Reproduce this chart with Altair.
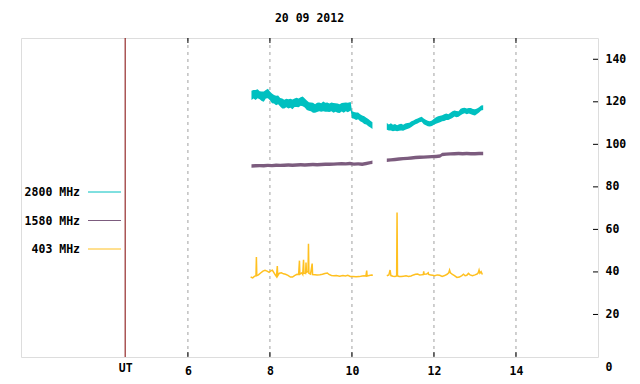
import altair as alt
import pandas as pd

TITLE = "20 09 2012"
SERIES = ["2800 MHz", "1580 MHz", "403 MHz"]
COLORS = ["#00c0c0", "#7c5c7e", "#ffc020"]
X_TICKS = [6, 8, 10, 12, 14]
UT_POS = 4.47
Y_TICKS = [0, 20, 40, 60, 80, 100, 120, 140]
X_DOMAIN = [1.93, 16]
Y_DOMAIN = [0, 150]

# 2800 MHz (band centre and noise half-width), two segments
t2800_a = [7.55, 7.60, 7.65, 7.70, 7.75, 7.80, 7.85, 7.90, 7.95, 8.00, 8.05, 8.10, 8.15, 8.20,
           8.25, 8.30, 8.35, 8.40, 8.45, 8.50, 8.55, 8.60, 8.65, 8.70, 8.75, 8.80, 8.85, 8.90,
           8.95, 9.00, 9.05, 9.10, 9.15, 9.20, 9.25, 9.30, 9.35, 9.40, 9.45, 9.50, 9.55, 9.60,
           9.65, 9.70, 9.75, 9.80, 9.85, 9.90, 9.97, 10.00, 10.05, 10.10, 10.15, 10.20, 10.25,
           10.30, 10.35, 10.40, 10.45, 10.50]
v2800_a = [123.0, 123.6, 123.2, 123.8, 123.1, 122.6, 122.4, 123.5, 123.9, 122.8, 121.6, 121.2,
           120.6, 120.9, 119.8, 119.2, 118.9, 119.4, 119.0, 119.3, 118.8, 119.6, 119.7, 119.5,
           120.1, 120.2, 119.4, 118.4, 117.8, 117.6, 117.2, 116.9, 117.4, 117.6, 117.3, 117.8,
           117.4, 117.5, 117.2, 117.6, 117.1, 117.3, 117.0, 116.8, 117.4, 117.2, 117.6, 117.3,
           117.9, 114.0, 113.6, 113.2, 113.4, 112.5, 112.0, 111.4, 110.9, 110.2, 109.5, 108.8]
s2800_a = [2.2, 2.0, 2.3, 2.1, 1.9, 2.2, 2.4, 2.0, 2.2, 2.1, 2.3, 2.0, 2.2, 2.1, 2.0, 2.3,
           2.1, 2.0, 2.2, 2.1, 2.3, 2.0, 2.2, 2.1, 2.0, 2.3, 2.1, 2.2, 2.0, 2.1, 2.3, 2.0,
           2.2, 2.1, 2.0, 2.3, 2.1, 2.2, 2.0, 2.1, 2.3, 2.0, 2.2, 2.1, 2.0, 2.3, 2.1, 2.2,
           2.0, 1.7, 1.6, 1.8, 1.6, 1.7, 1.6, 1.8, 1.6, 1.7, 1.6, 1.6]
t2800_b = [10.85, 10.90, 10.95, 11.00, 11.05, 11.10, 11.15, 11.20, 11.25, 11.30, 11.35, 11.40,
           11.45, 11.50, 11.55, 11.60, 11.65, 11.70, 11.75, 11.80, 11.85, 11.90, 11.95, 12.00,
           12.05, 12.10, 12.15, 12.20, 12.25, 12.30, 12.35, 12.40, 12.45, 12.50, 12.55, 12.60,
           12.65, 12.70, 12.75, 12.80, 12.85, 12.90, 12.95, 13.00, 13.05, 13.10, 13.15, 13.20]
v2800_b = [108.4, 107.9, 108.2, 107.7, 108.0, 107.6, 107.9, 108.1, 107.8, 108.3, 108.6, 108.9,
           109.5, 110.0, 110.6, 111.0, 111.5, 111.8, 110.8, 110.3, 109.8, 109.6, 109.9, 110.6,
           111.2, 111.6, 111.9, 112.3, 112.6, 113.0, 112.8, 113.4, 114.0, 114.5, 114.2, 114.3,
           115.2, 115.7, 115.9, 115.5, 115.8, 115.6, 115.2, 115.0, 115.6, 116.2, 117.1, 117.3]
s2800_b = [1.6, 1.4, 1.7, 1.5, 1.6, 1.4, 1.5, 1.6, 1.4, 1.5, 1.4, 1.3, 1.3, 1.2, 1.2, 1.2,
           1.1, 1.2, 1.4, 1.3, 1.3, 1.2, 1.3, 1.4, 1.5, 1.6, 1.5, 1.4, 1.6, 1.5, 1.4, 1.5,
           1.6, 1.4, 1.5, 1.3, 1.5, 1.4, 1.3, 1.4, 1.3, 1.5, 1.4, 1.5, 1.3, 1.2, 1.2, 1.1]

# 1580 MHz
t1580_a = [7.55, 7.65, 7.75, 7.85, 7.95, 8.05, 8.15, 8.25, 8.35, 8.45, 8.55, 8.65, 8.75, 8.85,
           8.95, 9.05, 9.15, 9.25, 9.35, 9.45, 9.55, 9.65, 9.75, 9.85, 9.95, 10.05, 10.15,
           10.25, 10.35, 10.45, 10.50]
v1580_a = [89.8, 89.9, 90.0, 89.9, 90.1, 90.0, 90.2, 90.1, 90.2, 90.3, 90.2, 90.3, 90.4, 90.3,
           90.4, 90.5, 90.4, 90.5, 90.6, 90.6, 90.7, 90.8, 90.9, 90.8, 91.0, 90.7, 90.8, 90.6,
           91.0, 91.4, 91.6]
t1580_b = [10.85, 10.95, 11.05, 11.15, 11.25, 11.35, 11.45, 11.55, 11.65, 11.75, 11.85, 11.95,
           12.05, 12.15, 12.20, 12.30, 12.40, 12.50, 12.60, 12.70, 12.80, 12.90, 13.00, 13.10,
           13.20]
v1580_b = [92.5, 92.7, 92.9, 93.1, 93.3, 93.4, 93.6, 93.8, 93.9, 94.0, 94.1, 94.2, 94.3, 94.5,
           95.2, 95.4, 95.5, 95.6, 95.7, 95.6, 95.7, 95.6, 95.6, 95.7, 95.7]
s1580 = 0.8

# 403 MHz
t403_a = [7.53, 7.58, 7.62, 7.66, 7.67, 7.68, 7.72, 7.78, 7.83, 7.88, 7.93, 7.98, 8.02, 8.06,
          8.10, 8.13, 8.16, 8.18, 8.19, 8.23, 8.28, 8.33, 8.38, 8.44, 8.50, 8.55, 8.60, 8.66,
          8.70, 8.72, 8.73, 8.78, 8.80, 8.82, 8.83, 8.87, 8.88, 8.89, 8.93, 8.94, 8.95, 8.99,
          9.03, 9.04, 9.10, 9.15, 9.22, 9.28, 9.34, 9.40, 9.44, 9.50, 9.56, 9.62, 9.70, 9.78,
          9.84, 9.90, 9.96, 10.02, 10.10, 10.18, 10.25, 10.30, 10.34, 10.36, 10.37, 10.42,
          10.48, 10.51]
v403_a = [37.6, 37.2, 37.9, 38.2, 47.0, 38.3, 38.6, 39.6, 40.4, 40.8, 40.4, 39.8, 40.5, 40.8,
          39.6, 38.6, 37.8, 42.8, 38.2, 39.4, 39.6, 39.1, 38.9, 38.4, 37.6, 37.6, 38.3, 38.9,
          38.8, 45.3, 39.0, 39.6, 38.9, 45.7, 39.4, 39.2, 44.4, 39.8, 40.2, 53.3, 39.4, 39.0,
          43.9, 38.8, 38.7, 38.6, 38.7, 38.9, 39.3, 39.5, 38.8, 38.3, 38.2, 38.3, 38.0, 38.3,
          38.1, 38.4, 37.9, 37.8, 37.7, 37.8, 38.1, 38.2, 38.0, 40.6, 38.1, 38.3, 38.5, 38.4]
t403_b = [10.85, 10.90, 10.93, 10.95, 11.00, 11.05, 11.09, 11.10, 11.11, 11.15, 11.20, 11.26,
          11.32, 11.38, 11.44, 11.50, 11.55, 11.60, 11.65, 11.70, 11.74, 11.75, 11.76, 11.82,
          11.86, 11.87, 11.92, 11.97, 12.02, 12.08, 12.14, 12.20, 12.26, 12.32, 12.36, 12.38,
          12.40, 12.45, 12.50, 12.56, 12.62, 12.68, 12.72, 12.76, 12.80, 12.84, 12.88, 12.94,
          13.00, 13.05, 13.08, 13.10, 13.12, 13.15, 13.18]
v403_b = [38.2, 38.6, 40.9, 38.3, 38.0, 37.9, 38.1, 68.0, 38.2, 37.9, 37.8, 38.0, 38.2, 37.9,
          38.1, 38.6, 38.9, 39.0, 38.6, 38.7, 38.8, 40.3, 38.9, 39.0, 39.6, 38.8, 38.6, 38.4,
          38.2, 38.6, 38.4, 37.9, 38.3, 38.9, 39.6, 40.9, 39.6, 38.9, 38.3, 37.4, 37.6, 38.3,
          38.9, 38.2, 38.4, 39.3, 38.6, 38.2, 38.6, 39.0, 39.6, 40.9, 39.4, 40.1, 38.8]

W, H = 577, 319
FONT = "DejaVu Sans Mono"
FS = 11.5


def band(ts, vs, ss, seg):
    if not isinstance(ss, list):
        ss = [ss] * len(ts)
    return pd.DataFrame({"t": ts, "lo": [v - s for v, s in zip(vs, ss)],
                         "hi": [v + s for v, s in zip(vs, ss)], "seg": seg})


df2800 = pd.concat([band(t2800_a, v2800_a, s2800_a, "a"), band(t2800_b, v2800_b, s2800_b, "b")])
df1580 = pd.concat([band(t1580_a, v1580_a, s1580, "a"), band(t1580_b, v1580_b, s1580, "b")])
df403 = pd.concat([pd.DataFrame({"t": t403_a, "v": v403_a, "seg": "a"}),
                   pd.DataFrame({"t": t403_b, "v": v403_b, "seg": "b"})])

xs = alt.Scale(domain=X_DOMAIN, nice=False, zero=False)
ys = alt.Scale(domain=Y_DOMAIN, nice=False, zero=False)

x_axis = alt.Axis(
    values=[UT_POS] + X_TICKS,
    labelExpr="datum.value < 5 ? 'UT' : format(datum.value, 'd')",
    grid=False, ticks=False, domain=False, title=None,
    labelFont=FONT, labelFontSize=FS, labelFontWeight="bold", labelColor="black",
    labelPadding={"condition": {"test": "datum.value < 5", "value": 5}, "value": 8},
)
y_axis = alt.Axis(
    values=Y_TICKS, orient="right", grid=False, ticks=False, domain=False, title=None,
    labelFont=FONT, labelFontSize=FS, labelFontWeight="bold", labelColor="black",
    labelAlign="left", labelPadding=7,
    labelOffset={"condition": {"test": "datum.value == 0", "value": 10}, "value": 0},
)

grid_df = pd.DataFrame({"t": X_TICKS})
grid = alt.Chart(grid_df).mark_rule(color="#a0a0a0", strokeDash=[3, 4], strokeWidth=1).encode(
    x=alt.X("t:Q", scale=xs, axis=x_axis))

a2800 = alt.Chart(df2800).mark_area(color=COLORS[0], opacity=1).encode(
    x=alt.X("t:Q", scale=xs), y=alt.Y("lo:Q", scale=ys, axis=y_axis), y2="hi:Q", detail="seg:N")
a1580 = alt.Chart(df1580).mark_area(color=COLORS[1], opacity=1).encode(
    x=alt.X("t:Q", scale=xs), y=alt.Y("lo:Q", scale=ys), y2="hi:Q", detail="seg:N")
l403 = alt.Chart(df403).mark_line(color=COLORS[2], strokeWidth=1.5).encode(
    x=alt.X("t:Q", scale=xs), y=alt.Y("v:Q", scale=ys), detail="seg:N")

ut = alt.Chart(pd.DataFrame({"t": [UT_POS]})).mark_rule(color="#7f0000", strokeWidth=1).encode(
    x=alt.X("t:Q", scale=xs))

bt = alt.Chart(grid_df).mark_rule(color="black").encode(
    x=alt.X("t:Q", scale=xs), y=alt.value(H - 5), y2=alt.value(H))
tt = alt.Chart(grid_df).mark_rule(color="black").encode(
    x=alt.X("t:Q", scale=xs), y=alt.value(0), y2=alt.value(5))
rt = alt.Chart(pd.DataFrame({"v": Y_TICKS[1:]})).mark_rule(color="black").encode(
    y=alt.Y("v:Q", scale=ys), x=alt.value(W - 5), x2=alt.value(W))

legend_layers = []
LEG_Y0, LEG_DY = 154, 28.5
for i, (name, col) in enumerate(zip(SERIES, COLORS)):
    ldf = pd.DataFrame({"name": [name]})
    yy = LEG_Y0 + i * LEG_DY
    legend_layers.append(alt.Chart(ldf).mark_text(
        align="right", baseline="middle", font=FONT, fontSize=FS, fontWeight="bold", color="black"
    ).encode(text="name:N", x=alt.value(59), y=alt.value(yy + 1)))
    legend_layers.append(alt.Chart(ldf).mark_rule(color=col, strokeWidth=1).encode(
        x=alt.value(67), x2=alt.value(100), y=alt.value(yy)))

chart = alt.layer(grid, a2800, a1580, l403, ut, bt, tt, rt, *legend_layers).properties(
    width=W, height=H,
    title=alt.TitleParams(TITLE, font=FONT, fontSize=FS, fontWeight="bold", anchor="middle",
                          offset=13, color="black"),
    autosize=alt.AutoSizeParams(type="none"),
    padding={"left": 13, "top": 30, "right": 34, "bottom": 19},
).configure_view(stroke="black", strokeWidth=1).configure(background="white")

chart.save("out.html", embed_options={"renderer": "svg", "actions": False})
